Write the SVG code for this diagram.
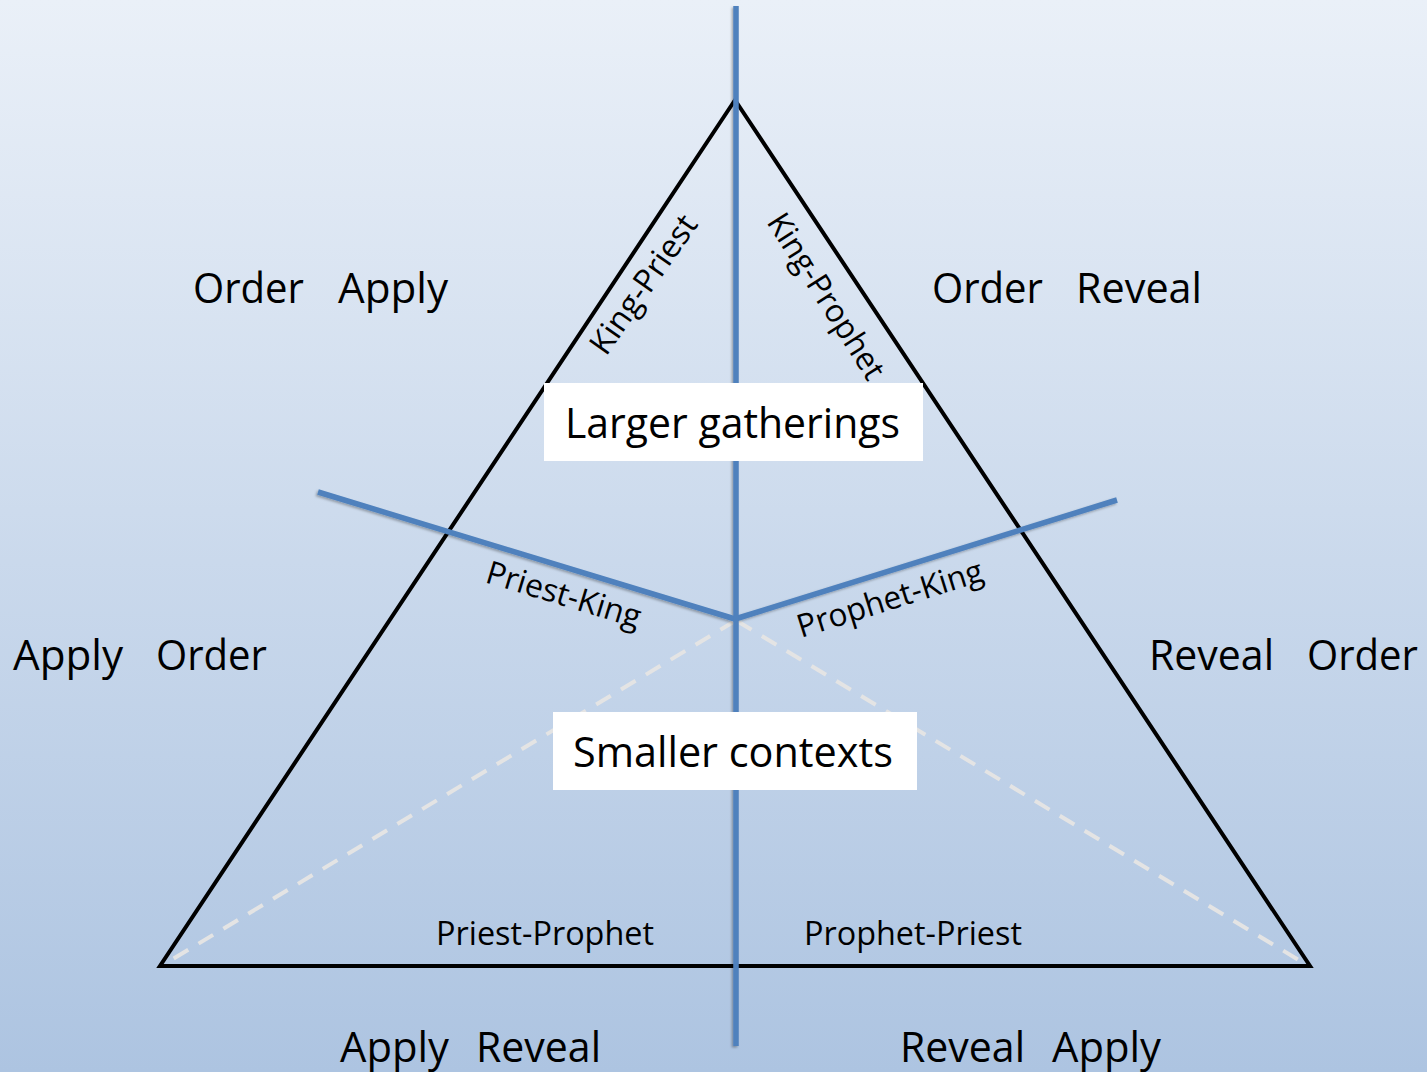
<svg xmlns="http://www.w3.org/2000/svg" width="1427" height="1072" viewBox="0 0 1427 1072">
  <defs>
    <linearGradient id="bg" x1="0" y1="0" x2="0" y2="1">
      <stop offset="0" stop-color="#eaf0f8"/>
      <stop offset="1" stop-color="#adc4e1"/>
    </linearGradient>
    <filter id="shade" x="-20%" y="-5%" width="140%" height="110%">
      <feDropShadow dx="-1.5" dy="1.5" stdDeviation="1.2" flood-color="#000" flood-opacity="0.3"/>
    </filter>
  </defs>
  <style>
    .lbl { font-family: "Open Sans", "Noto Sans", "Liberation Sans", sans-serif; fill: #000; }
    .big { font-size: 42px; }
    .small { font-size: 32px; }
    .axis { stroke: #4f81bd; stroke-width: 5.5; fill: none; stroke-linecap: butt; }
    .edge { stroke: #000; stroke-width: 4; fill: none; stroke-linejoin: miter; }
    .dash { stroke: #e4e4e4; stroke-width: 4; stroke-dasharray: 17 12; fill: none; }
    .box { fill: #fff; }
  </style>

  <rect x="0" y="0" width="1427" height="1072" fill="url(#bg)"/>

  <g id="connectors">
    <!-- dashed lines from the centre point to the base corners -->
    <line class="dash" x1="735" y1="621" x2="163" y2="965"/>
    <line class="dash" x1="737" y1="621" x2="1307" y2="965"/>
    <!-- triangle -->
    <polygon class="edge" points="735,100 1310,966 160,966"/>
    <!-- blue dividing lines -->
    <g filter="url(#shade)">
      <polyline class="axis" points="318,492 735,619 1117,500"/>
      <line class="axis" x1="736" y1="6" x2="736" y2="1046"/>
    </g>
  </g>

  <!-- edge labels -->
  <g id="edge-labels" class="lbl small">
    <text transform="translate(606,357) rotate(-55)" textLength="162" lengthAdjust="spacingAndGlyphs">King-Priest</text>
    <text transform="translate(766,222) rotate(57.5)" textLength="190" lengthAdjust="spacingAndGlyphs">King-Prophet</text>
    <text transform="translate(484,582) rotate(16.8)" textLength="160" lengthAdjust="spacingAndGlyphs">Priest-King</text>
    <text transform="translate(801,638) rotate(-17.4)" textLength="193" lengthAdjust="spacingAndGlyphs">Prophet-King</text>
    <text x="436" y="945" textLength="218" lengthAdjust="spacingAndGlyphs">Priest-Prophet</text>
    <text x="804" y="945" textLength="218" lengthAdjust="spacingAndGlyphs">Prophet-Priest</text>
  </g>

  <!-- region labels -->
  <g id="region-top-left" class="lbl big">
    <text y="303"><tspan x="193" textLength="111" lengthAdjust="spacingAndGlyphs">Order</tspan><tspan x="338" textLength="110" lengthAdjust="spacingAndGlyphs">Apply</tspan></text>
  </g>
  <g id="region-top-right" class="lbl big">
    <text y="303"><tspan x="932" textLength="111" lengthAdjust="spacingAndGlyphs">Order</tspan><tspan x="1076" textLength="126" lengthAdjust="spacingAndGlyphs">Reveal</tspan></text>
  </g>
  <g id="region-mid-left" class="lbl big">
    <text y="670"><tspan x="13" textLength="110" lengthAdjust="spacingAndGlyphs">Apply</tspan><tspan x="156" textLength="111" lengthAdjust="spacingAndGlyphs">Order</tspan></text>
  </g>
  <g id="region-mid-right" class="lbl big">
    <text y="670"><tspan x="1149" textLength="125" lengthAdjust="spacingAndGlyphs">Reveal</tspan><tspan x="1307" textLength="111" lengthAdjust="spacingAndGlyphs">Order</tspan></text>
  </g>
  <g id="region-bottom-left" class="lbl big">
    <text y="1062"><tspan x="340" textLength="109" lengthAdjust="spacingAndGlyphs">Apply</tspan><tspan x="476" textLength="125" lengthAdjust="spacingAndGlyphs">Reveal</tspan></text>
  </g>
  <g id="region-bottom-right" class="lbl big">
    <text y="1062"><tspan x="900" textLength="125" lengthAdjust="spacingAndGlyphs">Reveal</tspan><tspan x="1052" textLength="109" lengthAdjust="spacingAndGlyphs">Apply</tspan></text>
  </g>

  <!-- boxed headings -->
  <g id="larger-gatherings">
    <rect class="box" x="544" y="383" width="379" height="78"/>
    <text class="lbl big" x="565" y="438" textLength="335" lengthAdjust="spacingAndGlyphs">Larger gatherings</text>
  </g>
  <g id="smaller-contexts">
    <rect class="box" x="553" y="712" width="364" height="78"/>
    <text class="lbl big" x="573" y="767" textLength="320" lengthAdjust="spacingAndGlyphs">Smaller contexts</text>
  </g>
</svg>
